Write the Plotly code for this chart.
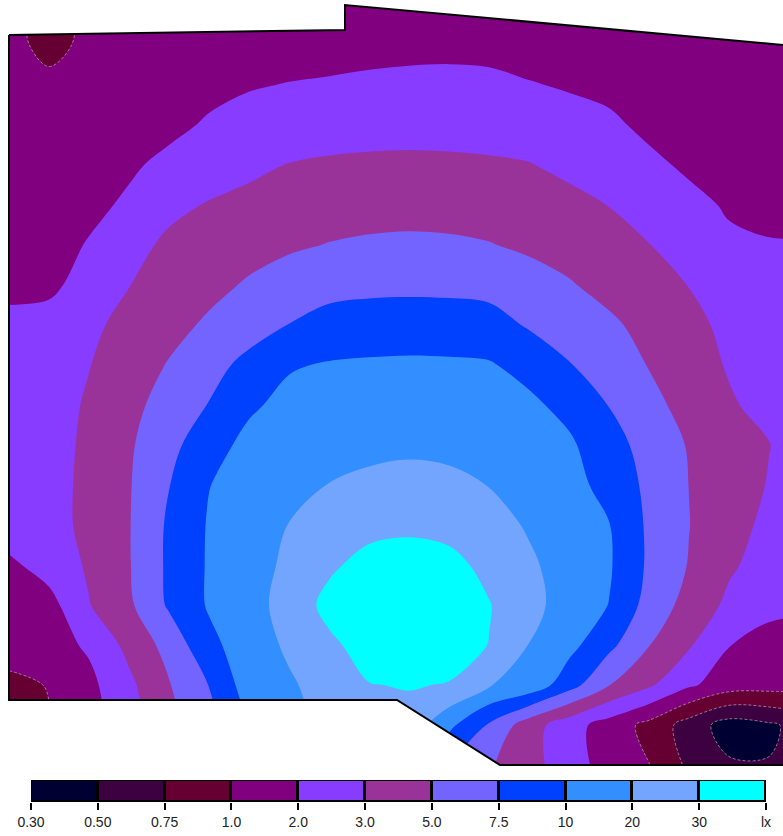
import numpy as np
import plotly.graph_objects as go

# ---- isolux level boundaries (lx) and legend ----
LEVELS = [0.30, 0.50, 0.75, 1.0, 2.0, 3.0, 5.0, 7.5, 10, 20, 30]
LEVEL_LABELS = ["0.30", "0.50", "0.75", "1.0", "2.0", "3.0", "5.0", "7.5", "10", "20", "30", "lx"]
BAND_COLORS = ["#000033", "#3d0040", "#660033", "#800080", "#883cff", "#993399",
               "#7364ff", "#0040ff", "#338fff", "#73a5ff", "#00ffff"]

# ---- measurement grid (plan coordinates) ----
GRID_X = [9, 49, 89, 129, 169, 209, 249, 289, 329, 369, 409, 449, 489, 529, 569, 609, 649, 689, 729, 769, 809]
GRID_Y = [5, 45, 85, 125, 165, 205, 245, 285, 325, 365, 405, 445, 485, 525, 565, 605, 645, 685, 725, 765]

# illuminance (lx) at the grid points, one list per row
LUX = [
    [1.4, 0.85, 1.3, 1.2, 1.2, 1.2, 1.25, 1.25, 1.3, 1.35, 1.4, 1.4, 1.4, 1.3, 1.2, 1.2, 1.2, 1.2, 1.2, 1.2, 1.2],
    [1.5, 0.88, 1.37, 1.35, 1.4, 1.45, 1.5, 1.54, 1.61, 1.69, 1.75, 1.78, 1.75, 1.57, 1.45, 1.4, 1.35, 1.3, 1.3, 1.3, 1.3],
    [1.4, 1.41, 1.4, 1.45, 1.6, 1.72, 1.92, 2.04, 2.11, 2.19, 2.23, 2.24, 2.2, 2.06, 1.91, 1.77, 1.6, 1.5, 1.4, 1.4, 1.4],
    [1.4, 1.45, 1.45, 1.5, 1.75, 2.12, 2.39, 2.54, 2.62, 2.68, 2.7, 2.69, 2.66, 2.56, 2.37, 2.17, 1.8, 1.6, 1.45, 1.4, 1.4],
    [1.35, 1.45, 1.55, 1.85, 2.25, 2.47, 2.77, 3.06, 3.24, 3.32, 3.36, 3.32, 3.22, 3.08, 2.79, 2.5, 2.2, 1.85, 1.6, 1.5, 1.5],
    [1.35, 1.5, 1.75, 2.16, 2.75, 3.14, 3.56, 3.9, 4.18, 4.28, 4.32, 4.28, 4.14, 3.92, 3.5, 2.98, 2.61, 2.25, 1.9, 1.75, 1.75],
    [1.4, 1.6, 2.07, 2.65, 3.4, 3.78, 4.36, 4.74, 5.08, 5.33, 5.45, 5.35, 5.1, 4.68, 4.32, 3.82, 3.04, 2.6, 2.16, 2.06, 2.05],
    [1.8, 1.8, 2.37, 2.98, 3.74, 4.5, 5.25, 6.05, 6.68, 6.88, 6.95, 6.9, 6.7, 5.98, 5.18, 4.44, 3.68, 2.98, 2.5, 2.35, 2.3],
    [2.2, 2.35, 2.8, 3.56, 4.42, 5.35, 6.45, 7.55, 8.43, 8.73, 8.8, 8.73, 8.5, 7.25, 6.33, 5.4, 4.44, 3.46, 2.8, 2.55, 2.5],
    [2.3, 2.6, 2.97, 4.02, 5.15, 6.65, 8.18, 9.8, 10.7, 11.2, 11.5, 11.3, 10.8, 9.23, 7.63, 6.25, 4.92, 3.88, 2.92, 2.6, 2.5],
    [2.4, 2.6, 3.22, 4.46, 5.95, 7.6, 9.65, 12.5, 13.9, 14.5, 15.0, 14.6, 13.8, 11.9, 9.3, 7.43, 5.7, 4.34, 3.22, 2.7, 2.6],
    [2.5, 2.6, 3.4, 4.76, 6.73, 9.1, 12.5, 15.2, 17.0, 17.9, 18.4, 18.0, 16.8, 14.1, 11.5, 8.5, 6.55, 4.86, 3.96, 3.04, 2.7],
    [2.55, 2.65, 3.46, 4.86, 7.43, 9.95, 13.4, 16.9, 20.2, 21.8, 22.8, 21.9, 19.8, 16.0, 12.6, 9.38, 6.88, 4.98, 3.9, 2.95, 2.7],
    [2.55, 2.65, 3.46, 4.9, 7.88, 10.8, 15.5, 20.2, 24.7, 26.8, 27.8, 26.7, 23.4, 19.1, 14.7, 10.3, 7.08, 5.05, 3.64, 2.8, 2.6],
    [1.8, 2.42, 3.24, 4.88, 7.95, 11.0, 16.2, 21.8, 28.2, 33.5, 35.0, 33.0, 27.2, 21.4, 16.2, 11.1, 7.1, 4.9, 3.28, 2.6, 2.45],
    [1.45, 1.65, 2.96, 4.66, 7.83, 11.0, 16.5, 23.5, 33.0, 37.0, 38.0, 36.0, 30.5, 22.8, 16.1, 9.95, 6.58, 4.28, 2.8, 2.3, 2.2],
    [1.5, 1.6, 2.14, 3.56, 5.88, 9.35, 15.3, 21.5, 28.0, 34.0, 36.0, 34.0, 29.8, 19.8, 13.1, 8.13, 5.08, 3.22, 2.03, 1.6, 1.5],
    [0.93, 1.05, 1.75, 2.78, 4.88, 7.55, 15.0, 18.8, 23.8, 29.7, 30.5, 29.6, 20.5, 17.0, 8.55, 5.08, 3.3, 2.15, 1.5, 1.4, 1.4],
    [0.85, 0.98, 1.6, 2.6, 4.4, 6.75, 10.5, 17.0, 22.0, 26.0, 27.0, 12.4, 7.25, 3.9, 2.41, 1.56, 0.93, 0.64, 0.41, 0.47, 0.6],
    [0.83, 0.95, 1.5, 2.5, 4.0, 6.25, 9.5, 15.0, 19.0, 22.0, 21.0, 7.55, 5.25, 3.76, 2.42, 1.62, 1.04, 0.7, 0.53, 0.51, 0.6],
]

# room outline (plan coordinates)
OUTLINE_X = [9, 345, 345, 790, 790, 500, 397, 9, 9]
OUTLINE_Y = [35, 30, 5, 45.6, 765, 765, 700, 700, 35]

W, H = 783, 836
PLOT_H = 770          # height of the plan area (px)

# ---- map lux to level index (band k lies between LEVELS[k] and LEVELS[k+1]) ----
lux = np.array(LUX, dtype=float)
ext_levels = [0.2] + LEVELS + [40.0]
ext_idx = np.arange(-1, len(LEVELS) + 1)
u = np.interp(lux, ext_levels, ext_idx)

nb = len(BAND_COLORS)
cols = [BAND_COLORS[0]] + BAND_COLORS
scale = []
for j, c in enumerate(cols):
    lo = max(0.0, (j - 0.5) / nb)
    hi = min(1.0, (j + 0.5) / nb)
    scale += [[lo, c], [hi, c]]

fig = go.Figure()
fig.add_trace(go.Contour(
    x=GRID_X, y=GRID_Y, z=u, customdata=lux,
    autocontour=False,
    contours=dict(start=0, end=len(LEVELS) - 1, size=1, coloring="fill", showlines=False),
    line=dict(width=0, smoothing=1.0),
    colorscale=scale, showscale=False,
    hovertemplate="%{customdata:.2f} lx<extra></extra>",
    xaxis="x", yaxis="y",
))
# faint dashed isolines for the low levels (0.50, 0.75, 1.0 lx)
fig.add_trace(go.Contour(
    x=GRID_X, y=GRID_Y, z=u,
    autocontour=False,
    contours=dict(start=1, end=3, size=1, coloring="none"),
    line=dict(width=0.8, smoothing=1.0, color="rgba(190,170,190,0.85)", dash="3px,2px"),
    showscale=False, hoverinfo="skip",
    xaxis="x", yaxis="y",
))

# white masks outside the room outline
ox, oy = OUTLINE_X, OUTLINE_Y
X0, X1, Y0, Y1 = -10, 800, -10, 790
top_x = [X0] + ox[0:4] + [ox[3], X0]
top_y = [oy[0]] + oy[0:4] + [Y0, Y0]
bot_x = ox[4:8] + [X0, X0, ox[4]]
bot_y = oy[4:8] + [oy[7], Y1, Y1]
left_x = [X0, ox[0], ox[0], X0]
left_y = [Y0, Y0, Y1, Y1]
for mx, my in ((top_x, top_y), (bot_x, bot_y), (left_x, left_y)):
    fig.add_trace(go.Scatter(x=mx, y=my, mode="lines", fill="toself", fillcolor="white",
                             line=dict(width=0, color="white"), hoverinfo="skip",
                             xaxis="x", yaxis="y"))

fig.add_trace(go.Scatter(x=OUTLINE_X, y=OUTLINE_Y, mode="lines",
                         line=dict(color="black", width=2), hoverinfo="skip",
                         xaxis="x", yaxis="y"))

# legend bar
fig.add_trace(go.Bar(
    x=[i + 0.5 for i in range(nb)], y=[1] * nb, width=1,
    marker=dict(color=BAND_COLORS, line=dict(color="black", width=3)),
    cliponaxis=False, hoverinfo="skip", xaxis="x2", yaxis="y2",
))

fig.update_layout(
    width=W, height=H, margin=dict(l=0, r=0, t=0, b=0, pad=0, autoexpand=False),
    paper_bgcolor="white", plot_bgcolor="white", showlegend=False,
    xaxis=dict(domain=[0, 1], range=[0, W], visible=False, fixedrange=True, automargin=False),
    yaxis=dict(domain=[(H - PLOT_H) / H, 1], range=[PLOT_H, 0], visible=False,
               fixedrange=True, automargin=False),
    xaxis2=dict(domain=[31 / W, 766 / W], range=[0, nb], anchor="y2", automargin=False,
                tickmode="array", tickvals=list(range(nb + 1)), ticktext=LEVEL_LABELS,
                ticks="outside", ticklen=7, tickwidth=2, tickcolor="black",
                showgrid=False, zeroline=False, showline=False, fixedrange=True,
                tickfont=dict(family="Liberation Sans, Arial, sans-serif", size=14, color="#222")),
    yaxis2=dict(domain=[(H - 802) / H, (H - 780) / H], range=[0, 1], anchor="x2",
                visible=False, fixedrange=True, automargin=False),
    bargap=0,
)

fig.write_html("out.html")
